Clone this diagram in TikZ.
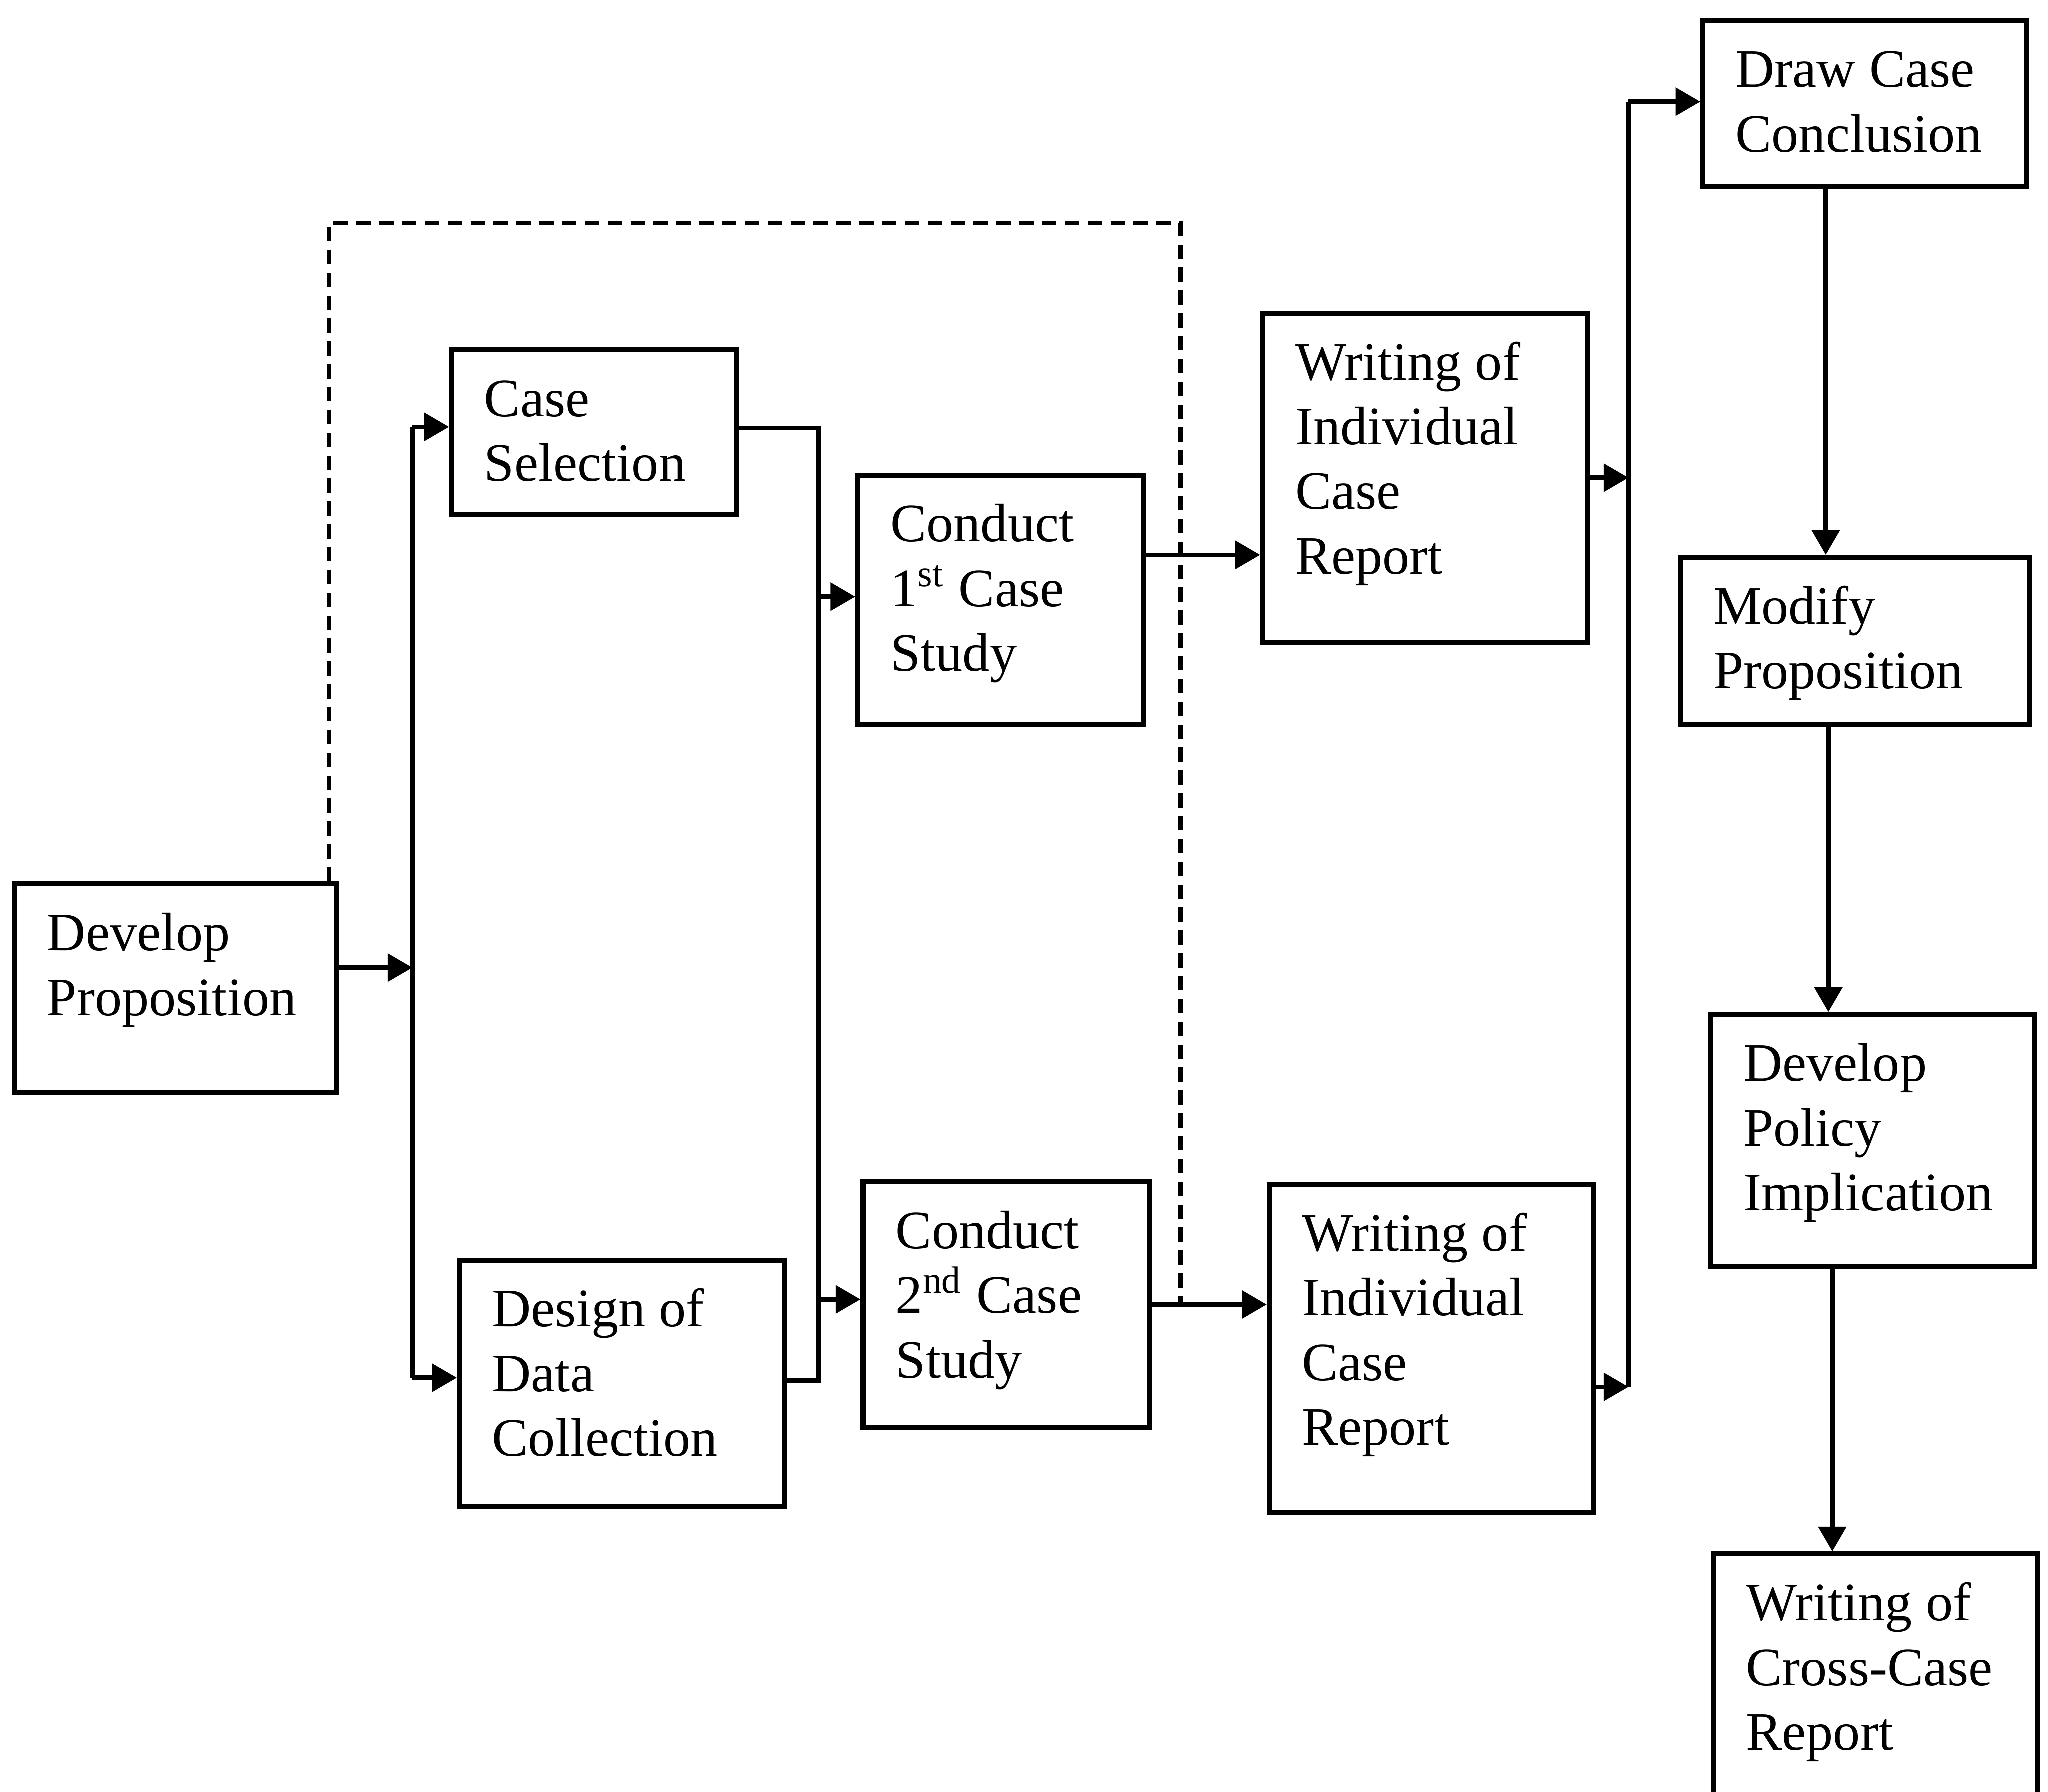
\documentclass[tikz,border=0pt]{standalone}
\usepackage{fontspec}
\setmainfont{Liberation Serif}
\usetikzlibrary{arrows.meta}
\newcommand\bx[3]{\begin{minipage}[t][#2][t]{#1}\fontsize{11.8pt}{14.1pt}\selectfont\leftskip=2.5mm\rule{0pt}{5.1mm}#3\end{minipage}}
\begin{document}
\begin{tikzpicture}[x=0.1mm,y=-0.1mm,line width=1pt,
  box/.style={draw,inner sep=0pt,anchor=north west,line width=1.1pt},
  arr/.style={-{Triangle[length=1.9mm,width=2.1mm]}},
  dashline/.style={dash pattern=on 1.1mm off 0.65mm,line width=1pt}]
\useasboundingbox (0,0) rectangle (1568,1372);
\clip (0,0) rectangle (1568,1372);
% boxes
\node[box] (dp) at (9,675)    {\bx{24.7mm}{16.0mm}{Develop\\Proposition}};
\node[box] (cs) at (344,266)  {\bx{21.8mm}{12.6mm}{Case\\Selection}};
\node[box] (dd) at (350,963)  {\bx{24.9mm}{18.9mm}{Design of\\Data\\Collection}};
\node[box] (c1) at (655,362)  {\bx{21.9mm}{19.1mm}{Conduct\\1\textsuperscript{st} Case\\Study}};
\node[box] (c2) at (659,903)  {\bx{21.9mm}{18.8mm}{Conduct\\2\textsuperscript{nd} Case\\Study}};
\node[box] (w1) at (965,238)  {\bx{24.9mm}{25.2mm}{Writing of\\Individual\\Case\\Report}};
\node[box] (w2) at (970,905)  {\bx{24.8mm}{25.1mm}{Writing of\\Individual\\Case\\Report}};
\node[box] (dc) at (1302,14)  {\bx{24.8mm}{12.7mm}{Draw Case\\Conclusion}};
\node[box] (mp) at (1285,425) {\bx{26.7mm}{12.8mm}{Modify\\Proposition}};
\node[box] (pi) at (1308,775) {\bx{24.8mm}{19.3mm}{Develop\\Policy\\Implication}};
\node[box] (cc) at (1310,1188){\bx{24.8mm}{22.0mm}{Writing of\\Cross-Case\\Report}};
% junction coordinates
\coordinate (j0) at (316,741);
\coordinate (j1a) at (316,327);
\coordinate (j1b) at (316,1055);
\coordinate (j2a) at (627,328);
\coordinate (j2b) at (627,1057);
\coordinate (j2c) at (627,457);
\coordinate (j2d) at (627,995);
\coordinate (k1) at (900,425);
\coordinate (d1) at (252,171);
\coordinate (d2) at (904,171);
\coordinate (d3) at (904,997);
\coordinate (j3a) at (1247,78);
\coordinate (j3b) at (1247,1062);
\coordinate (v1) at (1398,0);
\coordinate (v2) at (1400,0);
\coordinate (v3) at (1403,0);
% left bus
\draw[arr] (dp.east|-j0) -- (j0);
\draw (j1a) -- (j1b);
\draw[arr] (j1a) -- (j1a-|cs.west);
\draw[arr] (j1b) -- (j1b-|dd.west);
% middle bus
\draw (cs.east|-j2a) -- (j2a) -- (j2b) -- (dd.east|-j2b);
\draw[arr] (j2c) -- (j2c-|c1.west);
\draw[arr] (j2d) -- (j2d-|c2.west);
% to reports
\draw[arr] (k1-|c1.east) -- (k1-|w1.west);
\draw[arr] (c2.east) -- (c2.east-|w2.west);
% dashed feedback
\draw[dashline] (d1|-dp.north) -- (d1) -- (d2) -- (d3);
% right bus
\draw (j3b) -- (j3a);
\draw[arr] (w1.east) -- (w1.east-|j3a);
\draw[arr] (j3b-|w2.east) -- (j3b);
\draw[arr] (j3a) -- (j3a-|dc.west);
% right column
\draw[arr] (v1|-dc.south) -- (v1|-mp.north);
\draw[arr] (v2|-mp.south) -- (v2|-pi.north);
\draw[arr] (v3|-pi.south) -- (v3|-cc.north);
\end{tikzpicture}
\end{document}
